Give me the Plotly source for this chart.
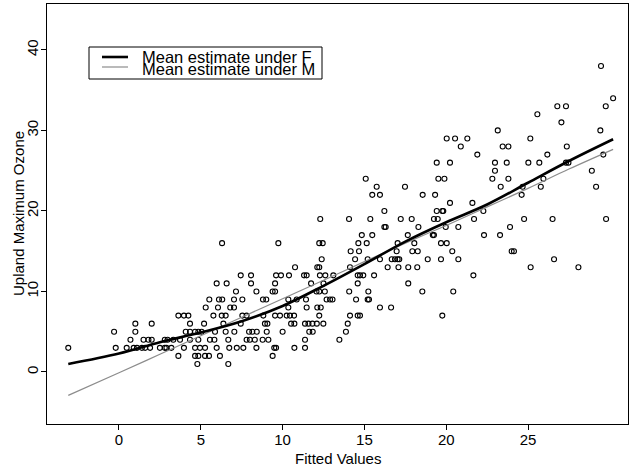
import plotly.graph_objects as go

# ---- data ----
pts = {
    # y value : list of fitted x values
    1: [4.79, 6.68],
    2: [3.63, 4.65, 4.85, 5.26, 5.5, 6.17, 9.39],
    3: [-3.1, -0.2, 0.47, 0.9, 1.1, 1.4, 1.6, 1.9, 2.5, 2.8,
        2.9, 3.2, 3.97, 4.65, 4.95, 5.26, 5.97, 6.74, 7.2, 7.6, 8.4,
        9.49, 9.6, 10.72, 11.37],
    4: [0.7, 1.5, 1.8, 2.0, 2.8, 2.97, 3.32, 3.73, 4.34, 4.85, 5.56, 5.83,
        6.68, 7.8, 8.0, 8.3, 8.78, 9.13, 11.37, 13.47],
    5: [-0.3, 1.0, 4.08, 4.34, 4.65, 4.85, 5.05, 5.87, 6.52, 7.05, 7.95,
        8.15, 8.42, 9.03, 10.0, 11.63, 11.84, 13.87],
    6: [1.0, 2.0, 4.34, 5.2, 6.38, 7.44, 8.92, 9.07, 10.52, 10.72, 11.37,
        11.58, 11.82, 12.09, 12.49, 13.98],
    7: [3.63, 3.97, 4.24, 5.77, 6.28, 6.52, 7.54, 7.8, 8.82, 9.54, 9.84,
        10.25, 10.45, 10.7, 12.24, 14.12, 14.59, 14.73, 19.76],
    8: [5.3, 6.05, 6.8, 7.03, 10.35, 11.47, 12.12, 12.33, 15.95, 16.63],
    9: [5.52, 6.11, 6.31, 7.03, 7.54, 8.8, 9.0, 10.35, 10.86, 11.43, 12.69,
        12.9, 13.05, 14.49, 15.2, 15.28],
    10: [7.15, 8.4, 9.39, 9.54, 12.07, 12.24, 12.58, 14.07, 15.24, 18.54,
         20.43],
    11: [5.97, 6.58, 8.07, 9.54, 11.74, 12.5, 14.59, 17.68],
    12: [7.44, 8.07, 9.6, 9.9, 10.39, 11.31, 11.47, 12.28, 12.61, 13.1,
         14.59, 14.73, 14.93, 15.59, 21.66],
    13: [10.76, 12.12, 12.24, 14.12, 16.42, 17.08, 17.68, 18.23, 25.16,
         28.08],
    14: [12.39, 14.43, 15.2, 15.95, 16.67, 16.87, 17.03, 17.13, 18.87,
         19.68, 20.74, 26.59],
    15: [14.16, 14.67, 16.97, 17.93, 18.26, 20.37, 24.0, 24.14],
    16: [6.3, 9.74, 12.24, 12.45, 14.63, 15.14, 17.03, 18.05, 19.68, 20.03],
    17: [14.84, 15.48, 17.65, 19.18, 19.25, 22.31, 23.29],
    18: [16.22, 16.3, 18.3, 19.97, 20.74, 23.9],
    19: [12.3, 14.06, 15.36, 17.22, 17.89, 19.25, 19.48, 21.7, 24.76,
         26.5, 29.77],
    20: [16.22, 19.42, 19.76, 19.82, 22.27],
    21: [20.23, 21.6],
    22: [15.48, 15.95, 18.56, 19.32, 24.61],
    23: [15.75, 17.48, 23.33, 24.67, 25.78, 29.16],
    24: [15.08, 19.52, 19.89, 22.82, 23.8, 25.94],
    25: [22.98, 28.9],
    26: [19.42, 20.23, 22.98, 23.7, 25.02, 25.69, 27.32, 27.47],
    27: [21.9, 26.18, 29.6],
    28: [20.89, 23.45, 23.8, 27.37],
    29: [20.03, 20.54, 21.29, 25.14],
    30: [23.15, 29.42],
    31: [27.04],
    32: [25.57],
    33: [26.79, 27.32, 29.75],
    34: [30.2],
    38: [29.46],
}
x_fit = [x for yv, xs in pts.items() for x in xs]
y_ozone = [yv for yv, xs in pts.items() for x in xs]

curve_x = [-3.1, 0, 2.5, 5, 7.5, 10, 12.5, 15, 17.5, 20, 22.5, 25, 27.5, 30.2]
mean_F = [1.0, 2.3, 3.7, 4.9, 6.3, 8.2, 10.7, 13.4, 16.2, 18.6, 20.8, 23.5, 26.2, 28.9]
mean_M = [-2.9, -0.1, 2.2, 4.5, 6.8, 9.1, 11.4, 13.7, 16.0, 18.2, 20.5, 22.8, 25.2, 27.65]

legend_labels = ["Mean estimate under F", "Mean estimate under M"]
x_ticks = [0, 5, 10, 15, 20, 25]
y_ticks = [0, 10, 20, 30, 40]

FONT = "Liberation Sans, Arial, Helvetica, sans-serif"

fig = go.Figure()
fig.add_trace(go.Scatter(
    x=x_fit, y=y_ozone, mode="markers",
    marker=dict(symbol="circle-open", size=5, color="black",
                line=dict(width=1.1, color="black")),
    showlegend=False, hoverinfo="skip"))
fig.add_trace(go.Scatter(
    x=curve_x, y=mean_M, mode="lines", line_shape="spline",
    line=dict(color="#8c8c8c", width=1.2), showlegend=False))
fig.add_trace(go.Scatter(
    x=curve_x, y=mean_F, mode="lines", line_shape="spline",
    line=dict(color="black", width=2.6), showlegend=False))

L, R, T, B = 47, 3, 4, 47
W, H = 631, 471
pw, ph = W - L - R, H - T - B

def px(xp):
    return (xp - L) / pw

def py(yp):
    return (H - B - yp) / ph

# manual legend
shapes = [
    dict(type="rect", xref="paper", yref="paper", x0=px(89), x1=px(322),
         y0=py(79), y1=py(47), line=dict(color="black", width=1),
         fillcolor="white", layer="above"),
    dict(type="line", xref="paper", yref="paper", x0=px(102), x1=px(128),
         y0=py(57), y1=py(57), line=dict(color="black", width=2.6)),
    dict(type="line", xref="paper", yref="paper", x0=px(102), x1=px(128),
         y0=py(67), y1=py(67), line=dict(color="#8c8c8c", width=1.2)),
]
annotations = [
    dict(text=legend_labels[0], xref="paper", yref="paper", x=px(140), y=py(57),
         xanchor="left", yanchor="middle", showarrow=False,
         font=dict(size=16.5, color="black", family=FONT)),
    dict(text=legend_labels[1], xref="paper", yref="paper", x=px(140), y=py(69),
         xanchor="left", yanchor="middle", showarrow=False,
         font=dict(size=16.5, color="black", family=FONT)),
    dict(text="Fitted Values", xref="paper", yref="paper", x=0.5, y=py(458),
         xanchor="center", yanchor="middle", showarrow=False,
         font=dict(size=15, color="black", family=FONT)),
    dict(text="Upland Maximum Ozone", xref="paper", yref="paper", x=px(18), y=0.5,
         xanchor="center", yanchor="middle", showarrow=False, textangle=-90,
         font=dict(size=15, color="black", family=FONT)),
]

axis_common = dict(showgrid=False, zeroline=False, showline=True, mirror=True,
                   linecolor="black", linewidth=1, ticks="outside", ticklen=5,
                   tickcolor="black", tickwidth=1,
                   tickfont=dict(size=15, color="black", family=FONT))

fig.update_layout(
    width=W, height=H, margin=dict(l=L, r=R, t=T, b=B),
    paper_bgcolor="white", plot_bgcolor="white",
    xaxis=dict(range=[-4.4, 31.11], tickvals=x_ticks, ticklabelstandoff=-3,
               **axis_common),
    yaxis=dict(range=[-6.46, 45.7], tickvals=y_ticks, tickangle=-90,
               ticklabelstandoff=-3, **axis_common),
    shapes=shapes, annotations=annotations, showlegend=False,
)

fig.write_html("out.html")
